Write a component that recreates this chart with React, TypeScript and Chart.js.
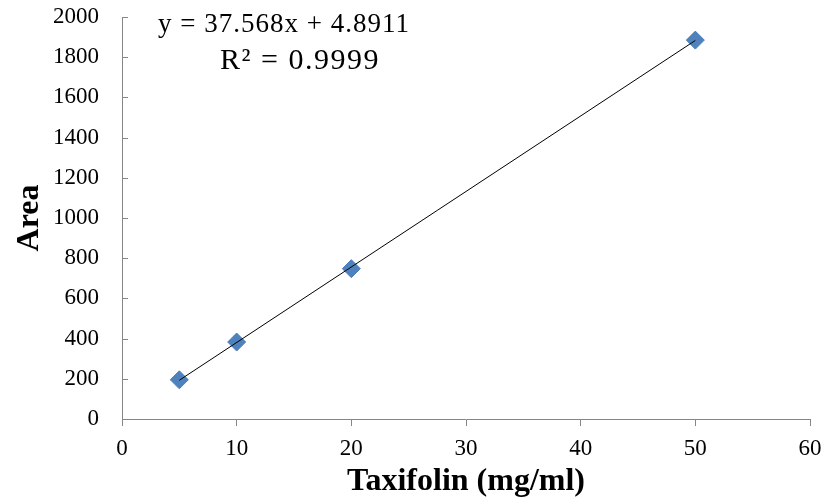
import React, { useEffect, useRef } from "react";
import { Chart, registerables } from "chart.js";

Chart.register(...registerables);

const concentrations = [5, 10, 20, 50];
const areas = [195, 383, 748, 1885];
const slope = 37.568;
const intercept = 4.8911;
const equationLabel = "y = 37.568x + 4.8911";
const r2Label = "R² = 0.9999";
const xTitle = "Taxifolin (mg/ml)";
const yTitle = "Area";

const SERIF = "'Liberation Serif', 'Times New Roman', serif";

export default function App() {
  const ref = useRef<HTMLCanvasElement | null>(null);
  useEffect(() => {
    if (!ref.current) return;
    const trendX = [concentrations[0], concentrations[concentrations.length - 1]];
    const innerTicks = {
      id: "innerTicks",
      afterDraw(chart: any) {
        const ctx = chart.ctx;
        const y = chart.scales.y;
        const area = chart.chartArea;
        ctx.save();
        ctx.strokeStyle = "#868686";
        ctx.lineWidth = 1;
        y.ticks.forEach((t: any) => {
          const py = Math.round(y.getPixelForValue(t.value)) + 0.5;
          ctx.beginPath();
          ctx.moveTo(area.left, py);
          ctx.lineTo(area.left + 6, py);
          ctx.stroke();
        });
        ctx.fillStyle = "#000";
        ctx.textAlign = "center";
        ctx.textBaseline = "middle";
        ctx.font = `27px ${SERIF}`;
        (ctx as any).letterSpacing = "1px";
        ctx.fillText(equationLabel, 284, 25);
        ctx.font = `30px ${SERIF}`;
        (ctx as any).letterSpacing = "1.5px";
        ctx.fillText(r2Label, 300, 61);
        ctx.restore();
      },
    };
    const chart = new Chart(ref.current, {
      type: "scatter",
      data: {
        datasets: [
          {
            type: "line",
            label: "trend",
            data: trendX.map((x) => ({ x, y: slope * x + intercept })),
            borderColor: "#000",
            borderWidth: 1,
            pointRadius: 0,
            fill: false,
          } as any,
          {
            label: "Area",
            data: concentrations.map((x, i) => ({ x, y: areas[i] })),
            pointStyle: "rectRot",
            pointRadius: 9,
            backgroundColor: "#4f81bd",
            borderColor: "#4a7ebb",
            borderWidth: 1,
          },
        ],
      },
      options: {
        animation: false,
        responsive: false,
        layout: { padding: { top: 17, right: 14, left: 0, bottom: 0 } },
        plugins: { legend: { display: false }, tooltip: { enabled: false } },
        scales: {
          x: {
            type: "linear",
            min: 0,
            max: 60,
            ticks: { stepSize: 10, color: "#000", font: { family: SERIF, size: 23 }, padding: 9, callback: (v: any) => String(v) },
            grid: { drawOnChartArea: false, drawTicks: true, tickLength: 7, color: "#868686" },
            border: { color: "#868686" },
            title: { display: true, text: xTitle, color: "#000", font: { family: SERIF, size: 32, weight: "bold" }, padding: { top: 0, bottom: 0 } },
            afterFit(s: any) { s.height = 82; s.paddingLeft = 0; s.paddingRight = 0; },
          },
          y: {
            min: 0,
            max: 2000,
            ticks: { stepSize: 200, color: "#000", font: { family: SERIF, size: 23 }, padding: 23, callback: (v: any) => String(v) },
            grid: { display: false, drawTicks: false },
            border: { color: "#868686" },
            title: { display: true, text: yTitle, color: "#000", font: { family: SERIF, size: 32, weight: "bold" }, padding: { top: 11, bottom: 0 } },
            afterFit(s: any) { s.width = 122; s.paddingTop = 0; s.paddingBottom = 0; },
          },
        },
      },
      plugins: [innerTicks],
    });
    return () => chart.destroy();
  }, []);
  return (
    <div style={{ position: "absolute", left: 0, top: 0, width: 824, height: 501, background: "#fff" }}>
      <canvas ref={ref} width={824} height={501} />
    </div>
  );
}
